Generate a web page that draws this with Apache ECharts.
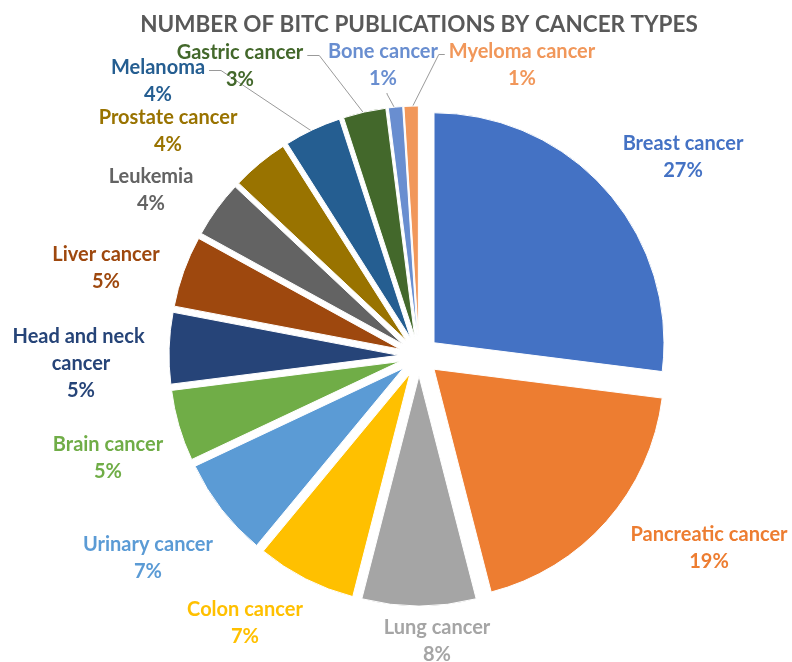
<!DOCTYPE html>
<html>
<head>
<meta charset="utf-8">
<script src="https://cdn.jsdelivr.net/npm/echarts@6/dist/echarts.min.js"></script>
<style>
  html, body { margin: 0; padding: 0; background: #ffffff; }
  #chart { width: 792px; height: 662px; }
</style>
</head>
<body>
<div id="chart"></div>
<script>
// ---- Data ----
var categories = [
  'Breast cancer', 'Pancreatic cancer', 'Lung cancer', 'Colon cancer',
  'Urinary cancer', 'Brain cancer', 'Head and neck cancer', 'Liver cancer',
  'Leukemia', 'Prostate cancer', 'Melanoma', 'Gastric cancer',
  'Bone cancer', 'Myeloma cancer'
];
var percentages = [27, 19, 8, 7, 7, 5, 5, 5, 4, 4, 4, 3, 1, 1];
var chartTitle = 'NUMBER OF BITC PUBLICATIONS BY CANCER TYPES';

// ---- Styling / layout (not data) ----
var colors = [
  '#4472C4', '#ED7D31', '#A5A5A5', '#FFC000', '#5B9BD5', '#70AD47',
  '#264478', '#9E480E', '#636363', '#997300', '#255E91', '#43682B',
  '#698ED0', '#F1975A'
];
// label block centres (layout of the text labels only)
var labelCentres = [
  [683, 157], [709, 548], [437, 641], [245, 623], [148, 558], [108, 458],
  [81, 364], [106, 268], [151, 190], [168, 131], [158, 81], [240, 66],
  [383, 65], [522, 65]
];
// which side of the label the leader line leaves from (null = no leader)
var leaderSide = [null, null, null, null, null, null, null, null,
                  null, null, 'right', 'right', 'bottom', 'left'];

var FONT = 'Lato, "Open Sans", "DejaVu Sans", sans-serif';
var PIE_CENTER = [419, 356];
var PIE_RADIUS = 230;
var EXPLODE = 20;
var LINE_H = 27;

// exploded slices (no labels)
var sliceData = categories.map(function (name, i) {
  return {
    name: name,
    value: percentages[i],
    selected: true,
    itemStyle: { color: colors[i] }
  };
});

// label carrier (transparent slices, same values)
var labelData = categories.map(function (name, i) {
  var item = {
    name: name,
    value: percentages[i],
    itemStyle: { color: 'rgba(0,0,0,0)' },
    label: { color: colors[i] },
    labelLine: { show: leaderSide[i] != null }
  };
  if (name === 'Head and neck cancer') {
    item.label.width = 150;
    item.label.overflow = 'break';
  }
  return item;
});

function layoutLabel(params) {
  var i = params.dataIndex;
  var c = labelCentres[i];
  var out = { x: c[0], y: c[1], align: 'center', verticalAlign: 'middle' };
  var side = leaderSide[i];
  if (side && params.labelLinePoints && params.labelLinePoints.length) {
    var p0 = params.labelLinePoints[0];
    var dx = p0[0] - PIE_CENTER[0], dy = p0[1] - PIE_CENTER[1];
    var len = Math.sqrt(dx * dx + dy * dy) || 1;
    var reach = PIE_RADIUS + EXPLODE - 3;
    var anchor = [PIE_CENTER[0] + dx / len * reach, PIE_CENTER[1] + dy / len * reach];
    var w = params.labelRect.width, h = params.labelRect.height;
    var left = c[0] - w / 2, right = c[0] + w / 2;
    var top = c[1] - h / 2, bottom = c[1] + h / 2;
    var firstY = top + LINE_H / 2 + 3;
    var start, elbow;
    if (side === 'right') {
      start = [right + 4, firstY];
      elbow = [right + 16, firstY];
    } else if (side === 'left') {
      start = [left - 4, firstY];
      elbow = [left - 10, firstY];
    } else {
      start = [c[0] + 4, bottom + 1];
      elbow = [c[0] + 4, bottom + 2];
    }
    out.labelLinePoints = [start, elbow, anchor];
  }
  return out;
}

var chart = echarts.init(document.getElementById('chart'), null, { renderer: 'canvas' });
chart.setOption({
  backgroundColor: '#ffffff',
  animation: false,
  title: {
    text: chartTitle,
    left: 414,
    textAlign: 'center',
    top: 8,
    textStyle: {
      fontFamily: FONT,
      fontWeight: 'bold',
      fontSize: 22.5,
      color: '#595959'
    }
  },
  series: [{
    type: 'pie',
    center: PIE_CENTER,
    radius: [0, PIE_RADIUS],
    startAngle: 90,
    clockwise: true,
    selectedMode: 'multiple',
    selectedOffset: EXPLODE,
    itemStyle: { borderColor: '#ffffff', borderWidth: 1 },
    select: { itemStyle: { borderColor: '#ffffff', borderWidth: 1 } },
    emphasis: { disabled: true },
    label: { show: false },
    labelLine: { show: false },
    silent: true,
    data: sliceData
  }, {
    type: 'pie',
    center: PIE_CENTER,
    radius: [0, PIE_RADIUS],
    startAngle: 90,
    clockwise: true,
    silent: true,
    emphasis: { disabled: true },
    avoidLabelOverlap: false,
    itemStyle: { borderWidth: 0 },
    label: {
      show: true,
      position: 'outside',
      fontFamily: FONT,
      fontWeight: 'bold',
      fontSize: 20,
      lineHeight: LINE_H,
      formatter: function (p) { return p.name + '\n' + p.value + '%'; }
    },
    labelLine: {
      length: 10,
      length2: 12,
      lineStyle: { color: '#9A9A9A', width: 1 }
    },
    labelLayout: layoutLabel,
    data: labelData
  }]
});
</script>
</body>
</html>
